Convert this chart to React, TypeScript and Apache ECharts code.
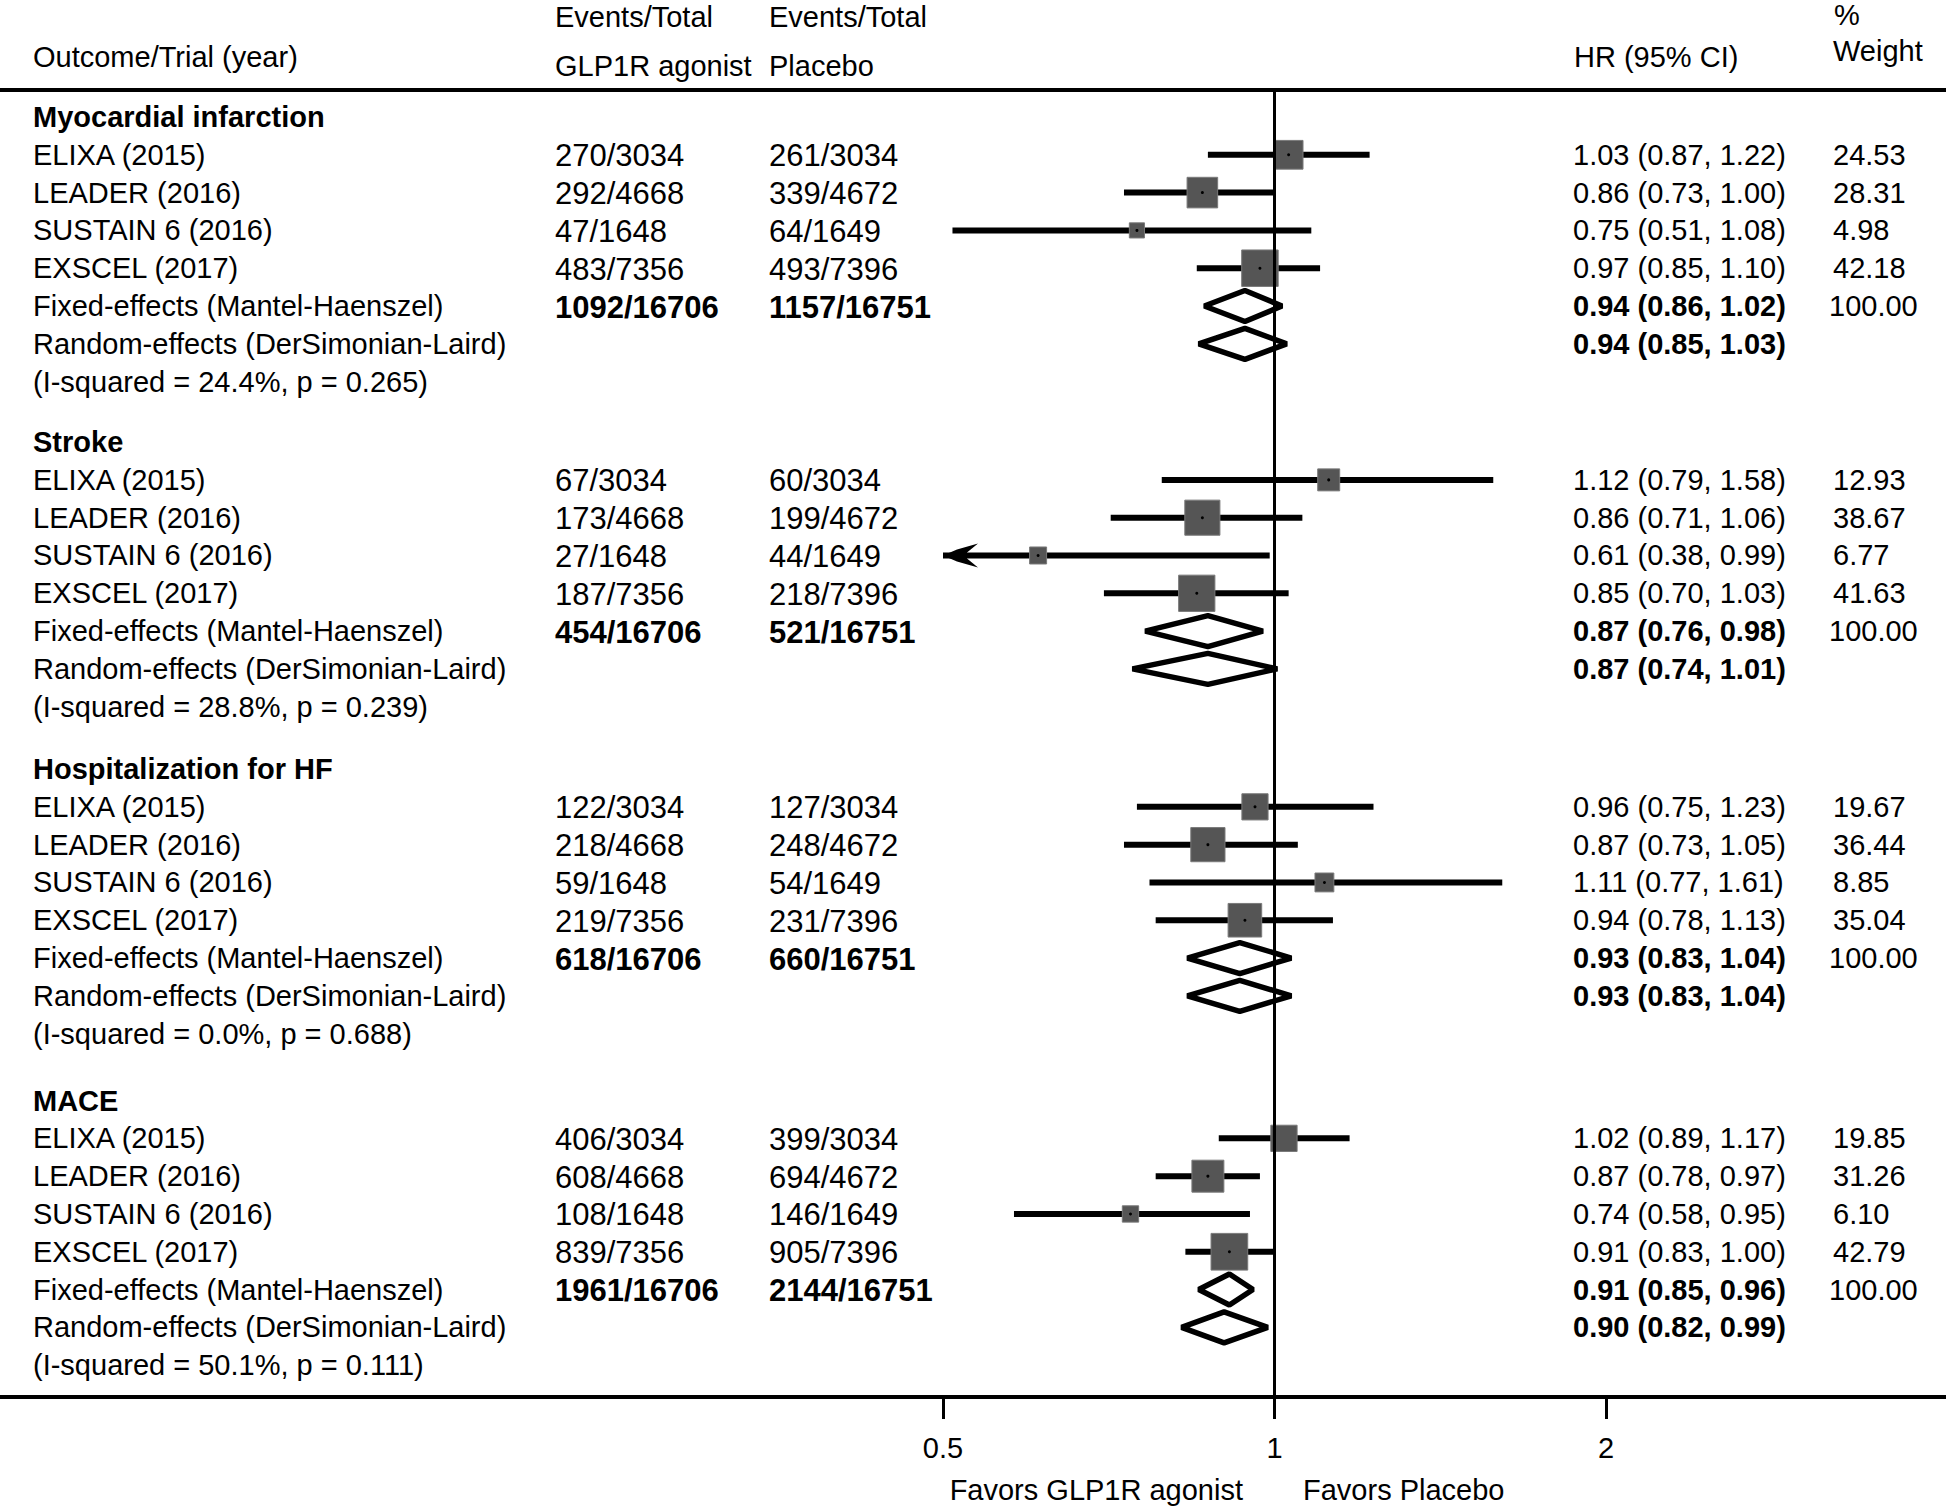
import React, { useEffect, useRef } from "react";
import * as echarts from "echarts";

// ---------------- data ----------------
const outcomes = ["Myocardial infarction", "Stroke", "Hospitalization for HF", "MACE"];
const trials = ["ELIXA (2015)", "LEADER (2016)", "SUSTAIN 6 (2016)", "EXSCEL (2017)"];
const fixedLabel = "Fixed-effects (Mantel-Haenszel)";
const randomLabel = "Random-effects (DerSimonian-Laird)";

const glpEvents = [
  [270, 292, 47, 483],
  [67, 173, 27, 187],
  [122, 218, 59, 219],
  [406, 608, 108, 839],
];
const glpTotals = [3034, 4668, 1648, 7356];
const glpFixedEvents = [1092, 454, 618, 1961];
const glpFixedTotal = 16706;

const placeboEvents = [
  [261, 339, 64, 493],
  [60, 199, 44, 218],
  [127, 248, 54, 231],
  [399, 694, 146, 905],
];
const placeboTotals = [3034, 4672, 1649, 7396];
const placeboFixedEvents = [1157, 521, 660, 2144];
const placeboFixedTotal = 16751;

const hr = [
  [1.03, 0.86, 0.75, 0.97],
  [1.12, 0.86, 0.61, 0.85],
  [0.96, 0.87, 1.11, 0.94],
  [1.02, 0.87, 0.74, 0.91],
];
const hrLow = [
  [0.87, 0.73, 0.51, 0.85],
  [0.79, 0.71, 0.38, 0.7],
  [0.75, 0.73, 0.77, 0.78],
  [0.89, 0.78, 0.58, 0.83],
];
const hrHigh = [
  [1.22, 1.0, 1.08, 1.1],
  [1.58, 1.06, 0.99, 1.03],
  [1.23, 1.05, 1.61, 1.13],
  [1.17, 0.97, 0.95, 1.0],
];
const weights = [
  [24.53, 28.31, 4.98, 42.18],
  [12.93, 38.67, 6.77, 41.63],
  [19.67, 36.44, 8.85, 35.04],
  [19.85, 31.26, 6.1, 42.79],
];
const fixedHr = [0.94, 0.87, 0.93, 0.91];
const fixedLow = [0.86, 0.76, 0.83, 0.85];
const fixedHigh = [1.02, 0.98, 1.04, 0.96];
const randomHr = [0.94, 0.87, 0.93, 0.9];
const randomLow = [0.85, 0.74, 0.83, 0.82];
const randomHigh = [1.03, 1.01, 1.04, 0.99];
const iSquared = ["24.4%", "28.8%", "0.0%", "50.1%"];
const pValues = ["0.265", "0.239", "0.688", "0.111"];
const xTickValues = [0.5, 1, 2];

// ---------------- layout ----------------
const W = 1946;
const H = 1512;
const FONT = '"Liberation Sans", Arial, Helvetica, sans-serif';
const FS = 29;
const FS_COUNT = 31;
const groupStart = [0, 8.6, 17.25, 26.02]; // row units
const COL = { label: 33, glp: 555, placebo: 769, hr: 1573, weight: 1833 };
const X_MIN = xTickValues[0];
const X_MAX = xTickValues[xTickValues.length - 1];

const f2 = (v: number) => v.toFixed(2);
const ciText = (e: number, l: number, h: number) => `${f2(e)} (${f2(l)}, ${f2(h)})`;

type Cell = { x: number; text: string; bold?: boolean; size?: number; dy?: number };
type Row = { y: number; cells: Cell[] };

function buildRows(): Row[] {
  const rows: Row[] = [];
  outcomes.forEach((name, g) => {
    const y0 = groupStart[g];
    rows.push({ y: y0, cells: [{ x: COL.label, text: name, bold: true }] });
    trials.forEach((t, k) => {
      rows.push({
        y: y0 + 1 + k,
        cells: [
          { x: COL.label, text: t },
          { x: COL.glp, text: `${glpEvents[g][k]}/${glpTotals[k]}`, size: FS_COUNT, dy: 1 },
          { x: COL.placebo, text: `${placeboEvents[g][k]}/${placeboTotals[k]}`, size: FS_COUNT, dy: 1 },
          { x: COL.hr, text: ciText(hr[g][k], hrLow[g][k], hrHigh[g][k]) },
          { x: COL.weight, text: f2(weights[g][k]) },
        ],
      });
    });
    const total = weights[g].reduce((a, b) => a + b, 0);
    rows.push({
      y: y0 + 5,
      cells: [
        { x: COL.label, text: fixedLabel },
        { x: COL.glp, text: `${glpFixedEvents[g]}/${glpFixedTotal}`, bold: true, size: FS_COUNT, dy: 1 },
        { x: COL.placebo, text: `${placeboFixedEvents[g]}/${placeboFixedTotal}`, bold: true, size: FS_COUNT, dy: 1 },
        { x: COL.hr, text: ciText(fixedHr[g], fixedLow[g], fixedHigh[g]), bold: true },
        { x: COL.weight - 4, text: f2(total) },
      ],
    });
    rows.push({
      y: y0 + 6,
      cells: [
        { x: COL.label, text: randomLabel },
        { x: COL.hr, text: ciText(randomHr[g], randomLow[g], randomHigh[g]), bold: true },
      ],
    });
    rows.push({
      y: y0 + 7,
      cells: [{ x: COL.label, text: `(I-squared = ${iSquared[g]}, p = ${pValues[g]})` }],
    });
  });
  return rows;
}

function buildTrialData() {
  const out: number[][] = [];
  outcomes.forEach((_, g) => {
    trials.forEach((__, k) => {
      out.push([hrLow[g][k], hrHigh[g][k], hr[g][k], groupStart[g] + 1 + k, weights[g][k]]);
    });
  });
  return out;
}

function buildPooledData() {
  const out: number[][] = [];
  outcomes.forEach((_, g) => {
    out.push([fixedLow[g], fixedHigh[g], fixedHr[g], groupStart[g] + 5]);
    out.push([randomLow[g], randomHigh[g], randomHr[g], groupStart[g] + 6]);
  });
  return out;
}

const txt = (x: number, y: number, text: string, opts: any = {}) => ({
  type: "text",
  x,
  y,
  style: {
    text,
    fill: "#000",
    fontSize: opts.size || FS,
    fontFamily: FONT,
    fontWeight: opts.bold ? "bold" : "normal",
    align: opts.align || "left",
    verticalAlign: "middle",
  },
});

export default function App() {
  const ref = useRef<HTMLDivElement>(null);

  useEffect(() => {
    if (!ref.current) return;
    const chart = echarts.init(ref.current, undefined, { renderer: "svg" });
    const rows = buildRows();
    const trialData = buildTrialData();
    const pooledData = buildPooledData();

    const gridTop = 90;
    const gridBottomPx = 1397;
    const rowPx = 37.8;
    const firstRowPx = 117;

    const option: any = {
      animation: false,
      backgroundColor: "#ffffff",
      grid: {
        left: 943,
        right: W - 1606,
        top: gridTop,
        bottom: H - gridBottomPx,
        containLabel: false,
      },
      xAxis: {
        type: "log",
        logBase: 2,
        min: X_MIN,
        max: X_MAX,
        position: "bottom",
        axisLine: { show: false, onZero: false },
        axisTick: { show: true, length: 22, lineStyle: { color: "#000", width: 3 } },
        axisLabel: {
          color: "#000",
          fontSize: FS,
          fontFamily: FONT,
          margin: 36,
          formatter: (v: number) => String(v),
        },
        splitLine: { show: false },
      },
      yAxis: {
        type: "value",
        inverse: true,
        min: (gridTop - firstRowPx) / rowPx,
        max: (gridBottomPx - firstRowPx) / rowPx,
        show: false,
      },
      graphic: [
        { type: "line", shape: { x1: 0, y1: gridTop, x2: W, y2: gridTop }, style: { stroke: "#000", lineWidth: 4 } },
        { type: "line", shape: { x1: 0, y1: gridBottomPx, x2: W, y2: gridBottomPx }, style: { stroke: "#000", lineWidth: 4 } },
        txt(COL.label, 57, "Outcome/Trial (year)"),
        txt(COL.glp, 17, "Events/Total"),
        txt(COL.glp, 66, "GLP1R agonist"),
        txt(COL.placebo, 17, "Events/Total"),
        txt(COL.placebo, 66, "Placebo"),
        txt(COL.hr + 1, 57, "HR (95% CI)"),
        txt(COL.weight + 1, 15, "%"),
        txt(COL.weight, 51, "Weight"),
        txt(1243, 1490, "Favors GLP1R agonist", { align: "right" }),
        txt(1303, 1490, "Favors Placebo"),
      ],
      series: [
        {
          type: "line",
          data: [],
          silent: true,
          z: 1,
          markLine: {
            silent: true,
            symbol: ["none", "none"],
            label: { show: false },
            lineStyle: { color: "#000", width: 3, type: "solid" },
            data: [{ xAxis: 1 }],
          },
        },
        {
          type: "custom",
          name: "trials",
          z: 3,
          clip: false,
          data: trialData,
          renderItem: (params: any, api: any) => {
            const lo = api.value(0);
            const hi = api.value(1);
            const est = api.value(2);
            const y = api.value(3);
            const w = api.value(4);
            const clipped = lo < X_MIN;
            const pLo = api.coord([Math.max(lo, X_MIN), y]);
            const pHi = api.coord([Math.min(hi, X_MAX), y]);
            const pE = api.coord([est, y]);
            const side = 4 + 5 * Math.sqrt(w);
            const children: any[] = [
              {
                type: "line",
                shape: { x1: pLo[0], y1: pLo[1], x2: pHi[0], y2: pHi[1] },
                style: { stroke: "#000", lineWidth: 6 },
              },
              {
                type: "rect",
                shape: { x: pE[0] - side / 2, y: pE[1] - side / 2, width: side, height: side },
                style: { fill: "#555555", stroke: "#7a7a7a", lineWidth: 1 },
              },
              {
                type: "circle",
                shape: { cx: pE[0], cy: pE[1], r: 1.5 },
                style: { fill: "#000" },
              },
            ];
            if (clipped) {
              const x = pLo[0];
              const yy = pLo[1];
              children.push({
                type: "polygon",
                shape: {
                  points: [
                    [x, yy],
                    [x + 14, yy - 6],
                    [x + 35, yy - 12],
                    [x + 24, yy - 3],
                    [x + 24, yy + 3],
                    [x + 35, yy + 12],
                    [x + 14, yy + 6],
                  ],
                },
                style: { fill: "#000" },
              });
            }
            return { type: "group", children };
          },
        },
        {
          type: "custom",
          name: "pooled",
          z: 3,
          clip: false,
          data: pooledData,
          renderItem: (params: any, api: any) => {
            const lo = api.value(0);
            const hi = api.value(1);
            const est = api.value(2);
            const y = api.value(3);
            const pLo = api.coord([lo, y]);
            const pHi = api.coord([hi, y]);
            const pE = api.coord([est, y]);
            const h = 15.5;
            return {
              type: "polygon",
              shape: {
                points: [
                  [pLo[0] + 2, pLo[1]],
                  [pE[0], pE[1] - h],
                  [pHi[0] - 2, pHi[1]],
                  [pE[0], pE[1] + h],
                ],
              },
              style: { fill: "none", stroke: "#000", lineWidth: 5.5, lineJoin: "bevel" },
            };
          },
        },
        {
          type: "custom",
          name: "texts",
          z: 4,
          clip: false,
          silent: true,
          data: rows.map((r) => [1, r.y]),
          renderItem: (params: any, api: any) => {
            const r = rows[params.dataIndex];
            const py = api.coord([1, api.value(1)])[1];
            return {
              type: "group",
              children: r.cells.map((c) =>
                txt(c.x, py + (c.dy || 0), c.text, { bold: c.bold, size: c.size })
              ),
            };
          },
        },
      ],
    };

    chart.setOption(option);
    return () => chart.dispose();
  }, []);

  return (
    <div
      ref={ref}
      style={{ position: "absolute", left: 0, top: 0, width: W, height: H, background: "#fff" }}
    />
  );
}
